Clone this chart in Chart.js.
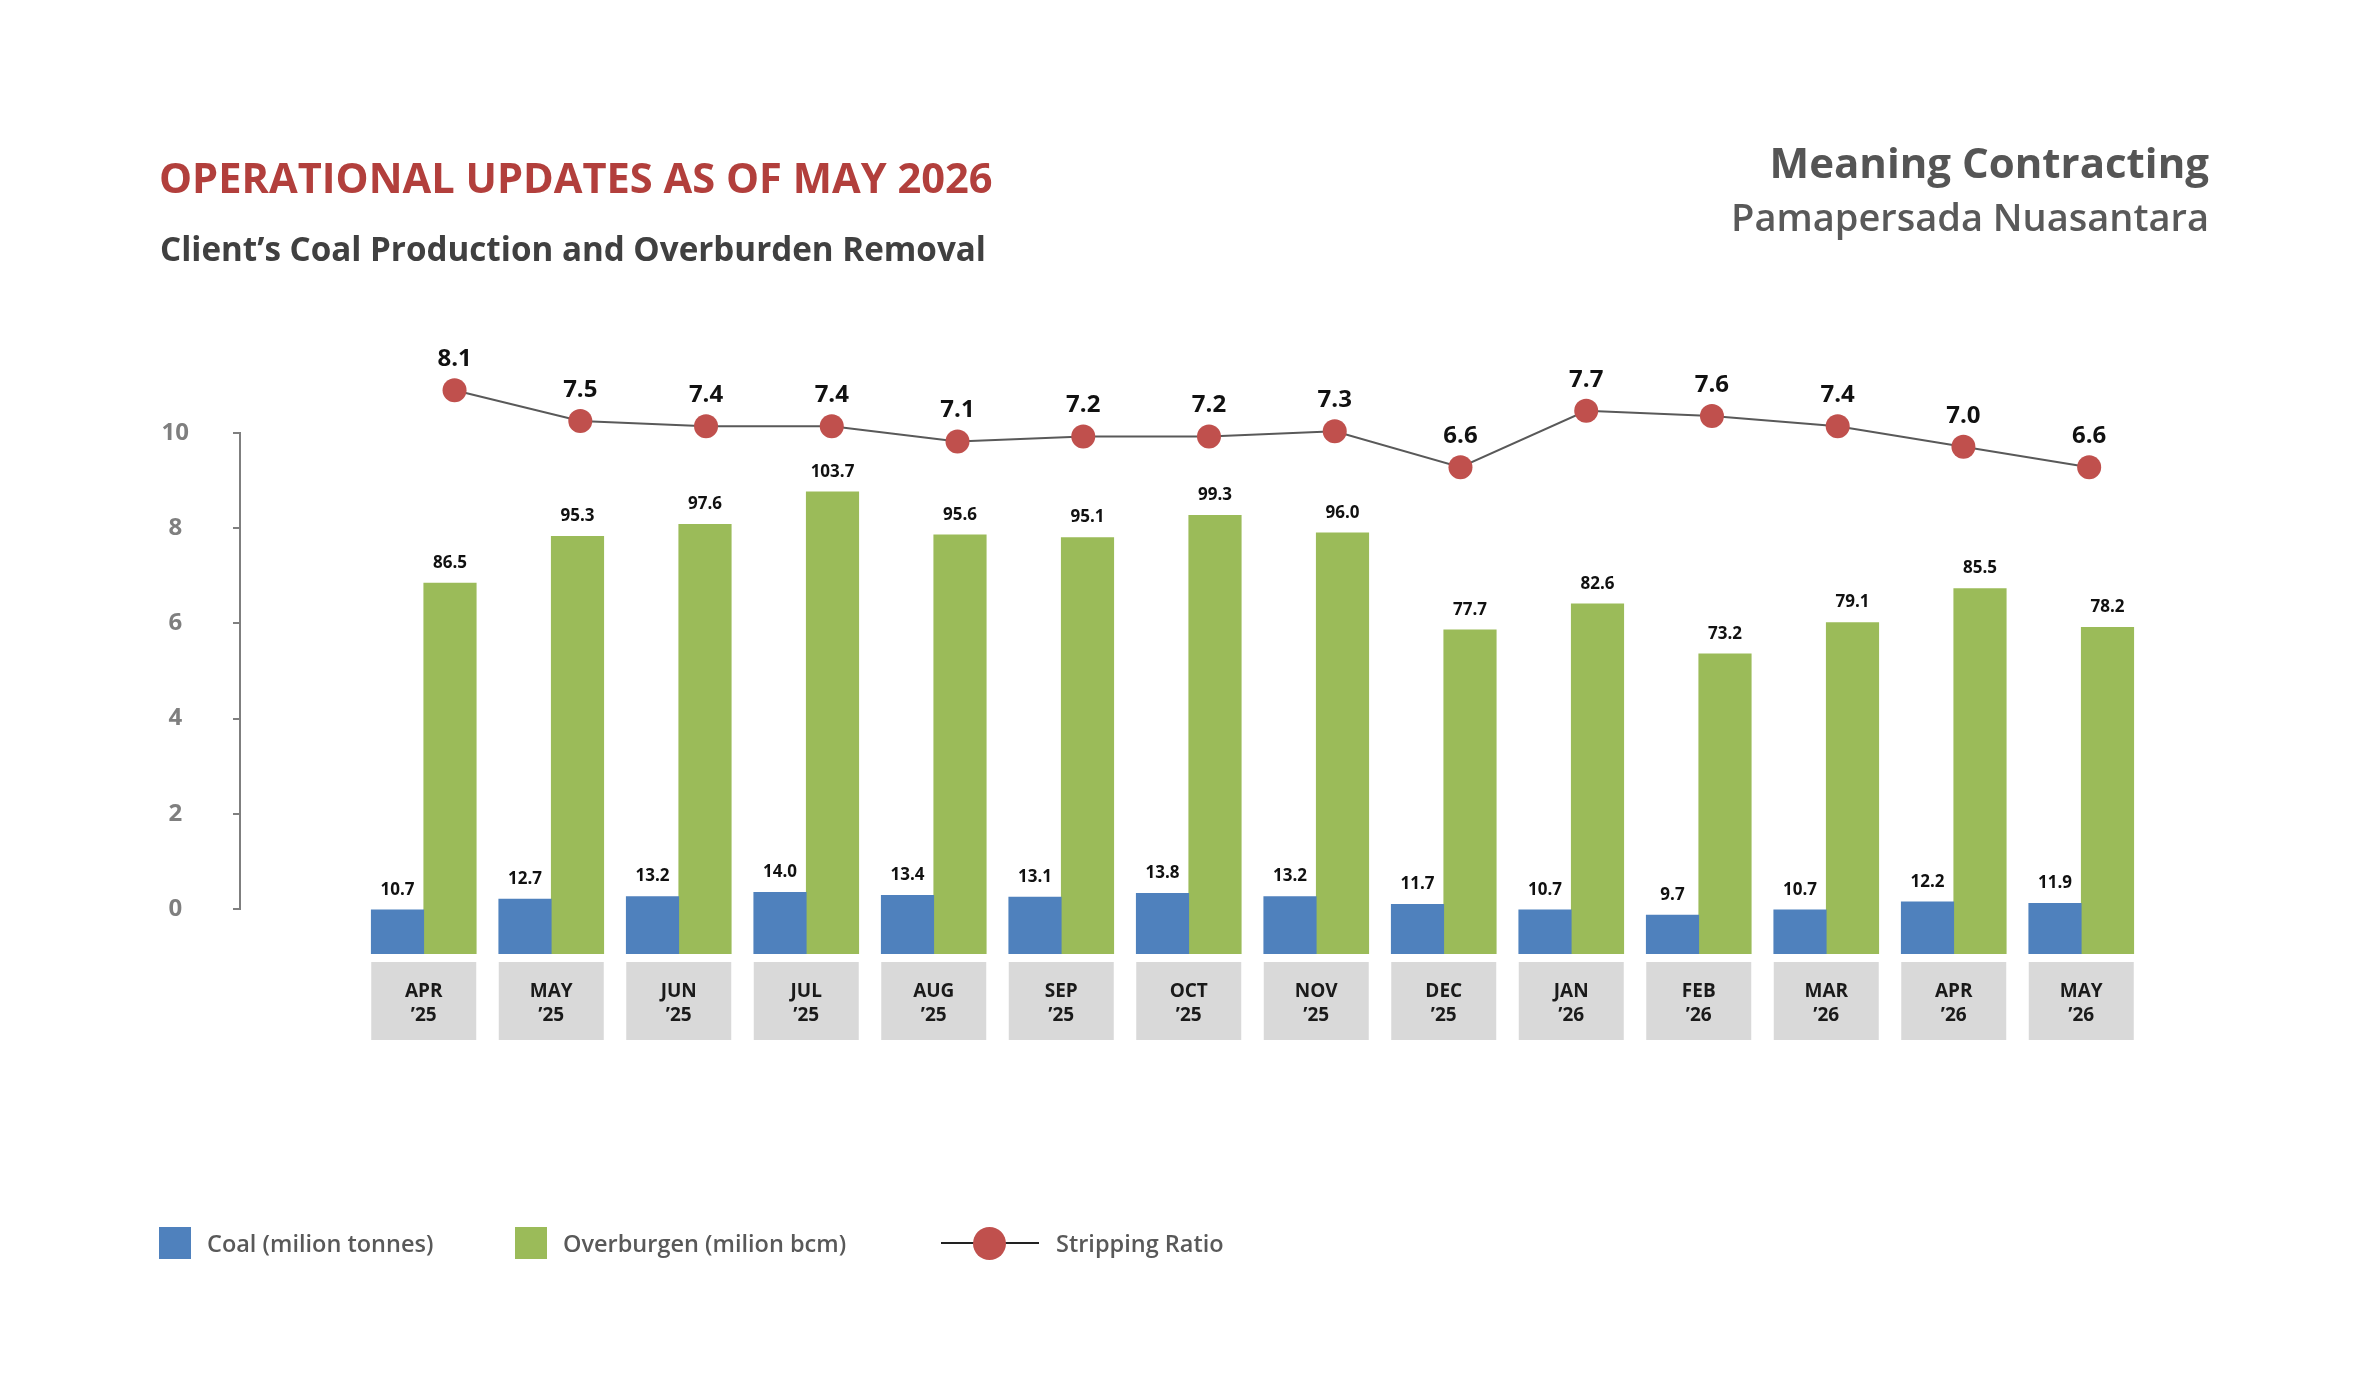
<!DOCTYPE html>
<html>
<head>
<meta charset="utf-8">
<title>Operational Updates as of May 2026</title>
<script src="https://cdn.jsdelivr.net/npm/chart.js@4.4.1/dist/chart.umd.min.js"></script>
<style>
  body { margin: 0; background: #fff; font-family: 'Open Sans', sans-serif; }
  #page { position: relative; width: 2368px; height: 1400px; overflow: hidden; }
  canvas { position: absolute; top: 0; left: 0; }
  .txt { position: absolute; line-height: 1; white-space: nowrap; }
  #title { left: 159px; top: 157px; font-size: 41.6px; font-weight: 700; color: #b23f3c; }
  #subtitle { left: 160px; top: 232px; font-size: 33.2px; font-weight: 700; color: #404040; }
  #company { right: 159px; top: 141px; font-size: 42px; font-weight: 700; color: #555; }
  #client { right: 159px; top: 197px; font-size: 38px; font-weight: 600; color: #595959; }
  .legend-item { position: absolute; top: 1227px; height: 32px; display: flex; align-items: center; }
  .legend-item .box { width: 32px; height: 32px; margin-right: 16px; }
  .legend-item .mark { position: relative; width: 98px; height: 32px; margin-right: 17px; }
  .legend-item .mark .ln { position: absolute; left: 0; right: 0; top: 15px; height: 2px; background: #222; }
  .legend-item .mark .dot { position: absolute; left: 32px; top: 0; width: 33px; height: 33px; border-radius: 50%; }
  .legend-item span { font-size: 23.5px; font-weight: 600; color: #595959; }
</style>
</head>
<body>
<div id="page">
  <canvas id="mainChart" width="2368" height="1400"></canvas>
  <canvas id="axisChart" width="260" height="1400"></canvas>
  <div class="txt" id="title">OPERATIONAL UPDATES AS OF MAY 2026</div>
  <div class="txt" id="subtitle">Client’s Coal Production and Overburden Removal</div>
  <div class="txt" id="company">Meaning Contracting</div>
  <div class="txt" id="client">Pamapersada Nuasantara</div>
  <div id="legend"></div>
</div>
<script>
const months = ['APR', 'MAY', 'JUN', 'JUL', 'AUG', 'SEP', 'OCT', 'NOV', 'DEC', 'JAN', 'FEB', 'MAR', 'APR', 'MAY'];
const years = ['’25', '’25', '’25', '’25', '’25', '’25', '’25', '’25', '’25', '’26', '’26', '’26', '’26', '’26'];
const coal = [10.7, 12.7, 13.2, 14.0, 13.4, 13.1, 13.8, 13.2, 11.7, 10.7, 9.7, 10.7, 12.2, 11.9];
const overburden = [86.5, 95.3, 97.6, 103.7, 95.6, 95.1, 99.3, 96.0, 77.7, 82.6, 73.2, 79.1, 85.5, 78.2];
const strippingRatio = [8.1, 7.5, 7.4, 7.4, 7.1, 7.2, 7.2, 7.3, 6.6, 7.7, 7.6, 7.4, 7.0, 6.6];
const leftAxisTicks = [0, 2, 4, 6, 8, 10];

const FONT = "'Open Sans', sans-serif";
const BAR_W = 52.5;

// grey boxes behind the month labels
const monthBoxes = {
  id: 'monthBoxes',
  beforeDraw(chart) {
    const x = chart.scales.x;
    const area = chart.chartArea;
    const ctx = chart.ctx;
    const w = BAR_W * 2;
    ctx.save();
    ctx.fillStyle = '#d9d9d9';
    x.ticks.forEach((t, i) => {
      const cx = x.getPixelForTick(i);
      ctx.fillRect(cx - w / 2, area.bottom + 8, w, 78);
    });
    ctx.restore();
  }
};

// value labels over bars and points
const valueLabels = {
  id: 'valueLabels',
  afterDatasetsDraw(chart) {
    const ctx = chart.ctx;
    ctx.save();
    ctx.textAlign = 'center';
    ctx.textBaseline = 'middle';
    ctx.fillStyle = '#111';
    chart.data.datasets.forEach((ds, i) => {
      const meta = chart.getDatasetMeta(i);
      const isLine = ds.type === 'line';
      ctx.font = isLine ? `bold 24px ${FONT}` : `bold 17px ${FONT}`;
      meta.data.forEach((el, j) => {
        const v = isLine ? ds.data[j].y : ds.data[j];
        ctx.fillText(v.toFixed(1), el.x, el.y - (isLine ? 31 : 20));
      });
    });
    ctx.restore();
  }
};

const mainChart = new Chart('mainChart', {
  type: 'bar',
  data: {
    labels: months.map((m, i) => [m, years[i]]),
    datasets: [
      {
        type: 'line',
        label: 'Stripping Ratio',
        data: strippingRatio.map((v, i) => ({ x: i, y: v })),
        xAxisID: 'xLine',
        yAxisID: 'yRatio',
        borderColor: '#595959',
        borderWidth: 2,
        pointRadius: 12,
        pointBackgroundColor: '#c0504d',
        pointBorderColor: '#c0504d',
        pointBorderWidth: 0,
        tension: 0,
        clip: false,
        order: 0
      },
      {
        label: 'Coal (milion tonnes)',
        data: coal,
        yAxisID: 'yCoal',
        backgroundColor: '#4f81bd',
        barThickness: BAR_W,
        order: 1
      },
      {
        label: 'Overburgen (milion bcm)',
        data: overburden,
        yAxisID: 'yOb',
        backgroundColor: '#9bbb59',
        barThickness: BAR_W,
        order: 1
      }
    ]
  },
  options: {
    responsive: false,
    animation: false,
    devicePixelRatio: 1,
    layout: { padding: { left: 360, right: 223, top: 340, bottom: 346 } },
    plugins: { legend: { display: false }, tooltip: { enabled: false } },
    scales: {
      x: {
        type: 'category',
        offset: true,
        grid: { display: false, drawTicks: false },
        border: { display: false },
        ticks: {
          padding: 26,
          maxRotation: 0,
          autoSkip: false,
          color: '#1a1a1a',
          font: { family: FONT, size: 19, weight: 'bold', lineHeight: 1.25 }
        },
        afterFit(s) { s.height = 100; }
      },
      // the ratio markers sit a little right of the month centres
      xLine: { type: 'linear', display: false, offset: false, grid: { offset: false }, min: -0.752, max: 13.444 },
      yCoal: { type: 'linear', display: false, min: 2.33, max: 118.4 },
      yOb: { type: 'linear', display: false, min: 16.66, max: 132.3 },
      yRatio: { type: 'linear', display: false, min: -2.89, max: 9.08 }
    }
  },
  plugins: [monthBoxes, valueLabels]
});

// the grey 0-10 axis on the left
new Chart('axisChart', {
  type: 'line',
  data: { labels: [], datasets: [] },
  options: {
    responsive: false,
    animation: false,
    devicePixelRatio: 1,
    layout: { padding: { top: 433, bottom: 491, left: 0, right: 0 } },
    plugins: { legend: { display: false }, tooltip: { enabled: false } },
    scales: {
      x: { display: false },
      y: {
        min: leftAxisTicks[0],
        max: leftAxisTicks[leftAxisTicks.length - 1],
        afterBuildTicks(s) { s.ticks = leftAxisTicks.map(v => ({ value: v })); },
        ticks: {
          padding: 44,
          crossAlign: 'center',
          color: '#7f7f7f',
          font: { family: FONT, size: 24, weight: 'bold' }
        },
        grid: { drawOnChartArea: false, tickLength: 7, color: '#7f7f7f', lineWidth: 2 },
        border: { color: '#7f7f7f', width: 2 },
        afterFit(s) { s.width = 240; }
      }
    }
  }
});

// legend
const legendLefts = [159, 515, 941];
const legend = document.getElementById('legend');
[1, 2, 0].forEach((di, k) => {
  const ds = mainChart.data.datasets[di];
  const item = document.createElement('div');
  item.className = 'legend-item';
  item.style.left = legendLefts[k] + 'px';
  if (ds.type === 'line') {
    item.innerHTML = `<div class="mark"><div class="ln"></div><div class="dot" style="background:${ds.pointBackgroundColor}"></div></div><span>${ds.label}</span>`;
  } else {
    item.innerHTML = `<div class="box" style="background:${ds.backgroundColor}"></div><span>${ds.label}</span>`;
  }
  legend.appendChild(item);
});
</script>
</body>
</html>
